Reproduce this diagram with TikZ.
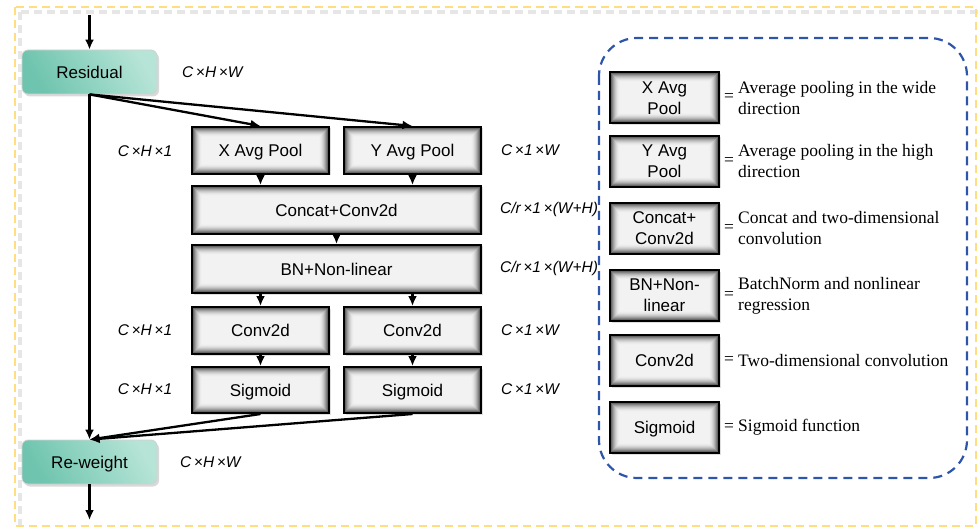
\documentclass[tikz,border=0pt]{standalone}
\usepackage{fontspec}
\setmainfont{Liberation Serif}
\setsansfont{Liberation Sans}
\usetikzlibrary{arrows.meta,shadows}
\definecolor{frameyellow}{RGB}{255,222,128}
\definecolor{legendblue}{RGB}{45,85,170}
\definecolor{tealdark}{RGB}{110,196,174}
\definecolor{teallight}{RGB}{182,228,214}
\begin{document}
\begin{tikzpicture}[x=1pt,y=-1pt,
  % gray block with dark inner glow
  gbox/.style={draw=black, line width=2pt, inner sep=0pt, align=center,
    font=\sffamily\fontsize{17}{21}\selectfont, fill=black!6,
    drop shadow={shadow xshift=1.5pt, shadow yshift=-1.5pt, opacity=0.25},
    path picture={
      \foreach \i [evaluate=\i as \c using {5+68*(1-\i/10)^2}] in {0,...,10}{
        \fill[black!\c] ([shift={(\i pt,-\i pt)}]path picture bounding box.north west)
          rectangle ([shift={(-\i pt,\i pt)}]path picture bounding box.south east);}
    }},
  oneline/.style={text height=12.2pt, text depth=0pt},
  tbox/.style={rounded corners=6pt, draw=black!18, line width=0.8pt,
    shading=axis, top color=teallight, bottom color=tealdark, shading angle=-60,
    inner sep=0pt, minimum width=135pt, minimum height=44pt, oneline,
    font=\sffamily\fontsize{17}{21}\selectfont,
    drop shadow={shadow xshift=2pt, shadow yshift=-2.5pt, opacity=0.3}},
  small/.style={gbox, oneline, minimum width=137pt, minimum height=47pt},
  wide/.style={gbox, oneline, minimum width=289pt, minimum height=48pt},
  legbox/.style={gbox, minimum width=109pt, minimum height=51pt},
  lbl/.style={font=\sffamily\itshape\fontsize{15.5}{18}\selectfont, inner sep=0pt},
  eq/.style={font=\fontsize{17.5}{21}\selectfont, inner sep=0pt},
  desc/.style={font=\fontsize{17.5}{21}\selectfont, inner sep=0pt, align=left, anchor=west},
  arr/.style={line width=2.3pt, -{Latex[length=10pt,width=9pt]}}
]
\useasboundingbox (0,0) rectangle (979,529);

% outer frame with its soft shadow
\draw[black!14, line width=4pt, dash pattern=on 8pt off 5pt, opacity=0.7] (20,12) rectangle (981,531);
\draw[frameyellow, line width=2.6pt, dash pattern=on 8pt off 5pt] (15,7) rectangle (976,526);

% main flow
\node[tbox] (res) at (89.5,72) {Residual};
\node[tbox] (rew) at (89.5,462) {Re-weight};
\node[small] (xp) at (260.5,150.5) {X Avg Pool};
\node[small] (yp) at (412.5,150.5) {Y Avg Pool};
\node[wide] (cc) at (336.5,210) {Concat+Conv2d};
\node[wide] (bn) at (336.5,269) {BN+Non-linear};
\node[small] (cl) at (260.5,330.5) {Conv2d};
\node[small] (cr) at (412.5,330.5) {Conv2d};
\node[small, minimum height=46pt] (sl) at (260.5,390) {Sigmoid};
\node[small, minimum height=46pt] (sr) at (412.5,390) {Sigmoid};

\coordinate (in) at (89.5,15);
\coordinate (out) at (89.5,520);

\draw[arr] (in) -- (res.north);
\draw[arr] (res.south) -- (xp.north);
\draw[arr] (res.south) -- (yp.north);
\draw[arr] (xp.south) -- (xp.south |- cc.north);
\draw[arr] (yp.south) -- (yp.south |- cc.north);
\draw[arr] (cc.south) -- (bn.north);
\draw[arr] (cl.north |- bn.south) -- (cl.north);
\draw[arr] (cr.north |- bn.south) -- (cr.north);
\draw[arr] (cl.south) -- (sl.north);
\draw[arr] (cr.south) -- (sr.north);
\draw[arr] (res.south) -- (rew.north);
\draw[arr] (sl.south) -- (rew.north);
\draw[arr] (sr.south) -- (rew.north);
\draw[arr] (rew.south) -- (out);

% tensor shapes
\node[lbl, anchor=west] (sres) at (182,72) {C\,×H\,×W};
\node[lbl, anchor=west] (srew) at (180,462) {C\,×H\,×W};
\node[lbl] (sxp) at (145,151) {C\,×H\,×1};
\node[lbl] (scl) at (145,330) {C\,×H\,×1};
\node[lbl] (ssl) at (145,389) {C\,×H\,×1};
\node[lbl, anchor=west] (syp) at (501,150) {C\,×1\,×W};
\node[lbl, anchor=west] (scc) at (500,209) {C/r\,×1\,×(W+H)};
\node[lbl, anchor=west] (sbn) at (500,268) {C/r\,×1\,×(W+H)};
\node[lbl, anchor=west] (scr) at (501,330) {C\,×1\,×W};
\node[lbl, anchor=west] (ssr) at (501,389) {C\,×1\,×W};

% legend
\draw[legendblue, line width=2.2pt, dash pattern=on 9pt off 6pt, rounded corners=38pt]
  (599,38) rectangle (967,478);

\node[legbox] (k1) at (664.5,98) {X Avg\\Pool};
\node[legbox] (k2) at (664.5,161.5) {Y Avg\\Pool};
\node[legbox] (k3) at (664.5,228.5) {Concat+\\Conv2d};
\node[legbox] (k4) at (664.5,295.5) {BN+Non-\\linear};
\node[legbox, oneline] (k5) at (664.5,360.5) {Conv2d};
\node[legbox, oneline] (k6) at (664.5,427.5) {Sigmoid};

\foreach \k in {1,...,6}{\node[eq] (e\k) at ([xshift=9pt]k\k.east) {=};}

\node[desc] (d1) at (738,98) {Average pooling in the wide\\direction};
\node[desc] (d2) at (738,161.5) {Average pooling in the high\\direction};
\node[desc] (d3) at (738,228.5) {Concat and two-dimensional\\convolution};
\node[desc] (d4) at (738,295.5) {BatchNorm and nonlinear\\regression};
\node[desc] (d5) at (738,360.5) {Two-dimensional convolution};
\node[desc] (d6) at (738,427.5) {Sigmoid function};
\end{tikzpicture}
\end{document}
